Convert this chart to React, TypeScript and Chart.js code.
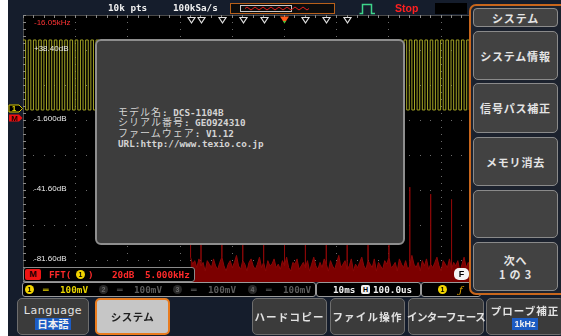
import React, { useEffect, useRef } from "react";
import { Chart, registerables } from "chart.js";

Chart.register(...registerables);

const W = 561;
const H = 336;

// ---- axis / grid data ----
const timeDivMs = [0, 10, 20, 30, 40, 50, 60, 70, 80, 90, 100];
const timeRangeMs = [0, 100];
const dbGrid = [58.4, 38.4, 18.4, -1.6, -21.6, -41.6, -61.6, -81.6];
const dbLabelValues = [38.4, -1.6, -41.6, -81.6];
const dbRange = [-94.2, 58.4];
const ch1RangeMv = [-491.4, 271.4];
const fftRangeKHz = [-16.05, 33.95];
const triggerTimeMs = 50;

// ---- CH1: 1 kHz probe-compensation square wave, one sample every 0.5 ms (mV) ----
const ch1SampleMs = 0.5;
const ch1Mv = [
  200, 0, 200, 0, 200, 0, 200, 0, 200, 0, 200, 0, 200, 0, 200, 0, 200, 0, 200, 0,
  200, 0, 200, 0, 200, 0, 200, 0, 200, 0, 200, 0, 200, 0, 200, 0, 200, 0, 200, 0,
  200, 0, 200, 0, 200, 0, 200, 0, 200, 0, 200, 0, 200, 0, 200, 0, 200, 0, 200, 0,
  200, 0, 200, 0, 200, 0, 200, 0, 200, 0, 200, 0, 200, 0, 200, 0, 200, 0, 200, 0,
  200, 0, 200, 0, 200, 0, 200, 0, 200, 0, 200, 0, 200, 0, 200, 0, 200, 0, 200, 0,
  200, 0, 200, 0, 200, 0, 200, 0, 200, 0, 200, 0, 200, 0, 200, 0, 200, 0, 200, 0,
  200, 0, 200, 0, 200, 0, 200, 0, 200, 0, 200, 0, 200, 0, 200, 0, 200, 0, 200, 0,
  200, 0, 200, 0, 200, 0, 200, 0, 200, 0, 200, 0, 200, 0, 200, 0, 200, 0, 200, 0,
  200, 0, 200, 0, 200, 0, 200, 0, 200, 0, 200, 0, 200, 0, 200, 0, 200, 0, 200, 0,
  200, 0, 200, 0, 200, 0, 200, 0, 200, 0, 200, 0, 200, 0, 200, 0, 200, 0, 200, 0,
  200,
];

// ---- FFT (math) : noise floor every 0.2 kHz from 0 Hz (dB) ----
const fftNoiseStepKHz = 0.2;
const fftNoiseDb = [
  -80, -84, -82, -86, -81, -85, -83, -88, -82, -84,
  -86, -81, -85, -87, -83, -80, -85, -88, -84, -82,
  -86, -83, -79, -85, -87, -82, -84, -88, -83, -81,
  -85, -87, -84, -80, -86, -83, -88, -82, -85, -84,
  -81, -86, -84, -87, -82, -85, -80, -86, -88, -83,
  -84, -81, -87, -85, -83, -86, -82, -88, -84, -80,
  -85, -87, -83, -86, -81, -84, -88, -82, -85, -87,
  -83, -79, -86, -84, -82, -87, -85, -81, -88, -84,
  -86, -83, -80, -85, -87, -82, -84, -86, -81, -88,
  -83, -85, -87, -82, -84, -80, -86, -85, -83, -88,
  -81, -84, -86, -82, -87, -85, -79, -84, -86, -83,
  -88, -82, -85, -81, -87, -84, -86, -83, -80, -85,
  -88, -82, -84, -86, -81, -87, -83, -85, -82, -88,
  -84, -80, -86, -83, -85, -87, -82, -84, -81, -86,
  -88, -83, -85, -80, -87, -84, -82, -86, -83, -85,
  -81, -88, -84, -86, -82, -85, -87, -83, -80, -84,
  -86, -82, -85, -88, -83, -81, -86, -84, -87, -82,
  -85,
];
// odd harmonics of the 1 kHz square wave (+ DC)
const fftHarmonicKHz = [0, 1, 3, 5, 7, 9, 11, 13, 15, 17, 19, 21, 23, 25, 27, 29, 31, 33];
const fftHarmonicDb = [6, 10, 0, -5, -9, -12, -15, -18, -21, -26, -31, -40, -44, -47, -50, -53, -55, -57];
// peak markers along the top edge (kHz)
const peakMarkerKHz = [0, 1, 3, 5, 7, 11, 13, 15];

const MONO = '"DejaVu Sans Mono", monospace';
const JP = '"Noto Sans CJK JP", sans-serif';
const SANS = '"Liberation Sans", Arial, sans-serif';

const scopePlugin = {
  id: "scopePlugin",
  beforeDatasetsDraw(chart: any) {
    const { ctx, chartArea: a, scales } = chart;
    const x = scales.x;
    const y = scales.y;
    ctx.save();
    ctx.fillStyle = "#000";
    ctx.fillRect(a.left, a.top, a.right - a.left, a.bottom - a.top);
    ctx.fillStyle = "#6c6c6c";
    const xMinor = (timeDivMs[1] - timeDivMs[0]) / 5;
    const yMinor = (dbGrid[0] - dbGrid[1]) / 5;
    timeDivMs.forEach((t) => {
      if (t === timeRangeMs[0]) return;
      const px = Math.round(x.getPixelForValue(t));
      for (let k = 0; dbRange[1] - k * yMinor >= dbRange[0]; k++) {
        ctx.fillRect(px, Math.round(y.getPixelForValue(dbRange[1] - k * yMinor)), 1, 1);
      }
    });
    dbGrid.forEach((v) => {
      if (v === dbRange[1]) return;
      const py = Math.round(y.getPixelForValue(v));
      for (let k = 0; k * xMinor <= timeRangeMs[1]; k++) {
        ctx.fillRect(Math.round(x.getPixelForValue(k * xMinor)), py, 1, 1);
      }
    });
    // border + ticks
    ctx.fillStyle = "#4a4a4a";
    ctx.fillRect(a.left, a.top, 1, a.bottom - a.top);
    ctx.fillRect(a.left, a.top, a.right - a.left, 1);
    ctx.fillStyle = "#8a8a8a";
    for (let k = 0; dbRange[1] - k * yMinor >= dbRange[0]; k++) {
      ctx.fillRect(a.left, Math.round(y.getPixelForValue(dbRange[1] - k * yMinor)), 3, 1);
    }
    for (let k = 0; k * xMinor <= timeRangeMs[1]; k++) {
      ctx.fillRect(Math.round(x.getPixelForValue(k * xMinor)), a.top, 1, 3);
    }
    ctx.restore();
  },
  afterDatasetsDraw(chart: any) {
    const { ctx, chartArea: a, scales } = chart;
    const y = scales.y;
    const x = scales.x;
    const x2 = scales.x2;
    ctx.save();
    ctx.font = '8px "Liberation Sans"';
    ctx.fillStyle = "#e8e8e8";
    ctx.textBaseline = "middle";
    dbLabelValues.forEach((v) => {
      const txt = `${v > 0 ? "+" : ""}${v.toPrecision(4)}dB`;
      ctx.fillText(txt, a.left + 11, y.getPixelForValue(v) - 1);
    });
    // peak markers
    ctx.strokeStyle = "#e0e0e0";
    ctx.lineWidth = 1.2;
    peakMarkerKHz.forEach((f) => {
      const px = Math.round(x2.getPixelForValue(f)) + 0.5;
      ctx.beginPath();
      ctx.moveTo(px - 3.5, a.top + 2.5);
      ctx.lineTo(px + 3.5, a.top + 2.5);
      ctx.lineTo(px, a.top + 8);
      ctx.closePath();
      ctx.stroke();
    });
    // trigger position marker
    const tx = Math.round(x.getPixelForValue(triggerTimeMs)) + 0.5;
    ctx.fillStyle = "#ff5a1a";
    ctx.beginPath();
    ctx.moveTo(tx - 4.5, a.top + 1.5);
    ctx.lineTo(tx + 4.5, a.top + 1.5);
    ctx.lineTo(tx, a.top + 8.5);
    ctx.closePath();
    ctx.fill();
    ctx.fillStyle = "#30d040";
    ctx.beginPath();
    ctx.moveTo(tx - 1.5, a.top + 6);
    ctx.lineTo(tx + 1.5, a.top + 6);
    ctx.lineTo(tx, a.top + 8.5);
    ctx.closePath();
    ctx.fill();
    ctx.restore();
  },
};

function buildFftPoints() {
  const pts: { x: number; y: number }[] = [];
  fftNoiseDb.forEach((v, i) => pts.push({ x: i * fftNoiseStepKHz, y: v }));
  fftHarmonicKHz.forEach((f, i) => {
    const base = fftNoiseDb[Math.min(fftNoiseDb.length - 1, Math.round(f / fftNoiseStepKHz))];
    pts.push({ x: f, y: base }, { x: f, y: fftHarmonicDb[i] }, { x: f, y: base });
  });
  return pts.map((p, i) => ({ p, i })).sort((a, b) => a.p.x - b.p.x || a.i - b.i).map((o) => o.p);
}

function Txt(props: { x: number; y: number; children: any; style?: any }) {
  return (
    <div
      style={{
        position: "absolute",
        left: props.x,
        top: props.y,
        transform: "translateY(-50%)",
        lineHeight: 1,
        whiteSpace: "nowrap",
        ...props.style,
      }}
    >
      {props.children}
    </div>
  );
}

function Circle(props: { x: number; y: number; n: string; bg: string; color: string; border?: string }) {
  return (
    <div
      style={{
        position: "absolute",
        left: props.x,
        top: props.y - 4.5,
        width: 9,
        height: 9,
        borderRadius: "50%",
        background: props.bg,
        border: props.border || "none",
        boxSizing: "border-box",
        color: props.color,
        fontFamily: SANS,
        fontWeight: 700,
        fontSize: 7,
        lineHeight: "9px",
        textAlign: "center",
      }}
    >
      {props.n}
    </div>
  );
}

const menuButtons = [
  { top: 31, h: 49, label: ["システム情報"] },
  { top: 83, h: 50, label: ["信号パス補正"] },
  { top: 137, h: 49, label: ["メモリ消去"] },
  { top: 190, h: 48, label: [] as string[] },
  { top: 242, h: 49, label: ["次へ", "1 の 3"] },
];

const softKeys = [
  { x: 17, w: 72, main: "Language", sub: "日本語", latin: true },
  { x: 95, w: 75, main: "システム", active: true },
  { x: 252, w: 75, main: "ハードコピー", ls: 1.2 },
  { x: 330, w: 75, main: "ファイル操作", ls: 1.2 },
  { x: 408, w: 76, main: "インターフェース", ls: -0.6 },
  { x: 486, w: 78, main: "プローブ補正", sub: "1kHz", ls: 1 },
];

const channels = [
  { n: "1", x: 25, on: true },
  { n: "2", x: 99, on: false },
  { n: "3", x: 173, on: false },
  { n: "4", x: 248, on: false },
];

export default function App() {
  const ref = useRef<HTMLCanvasElement>(null);
  useEffect(() => {
    const ch1Points = ch1Mv.map((v, i) => ({ x: i * ch1SampleMs, y: v }));
    const chart = new Chart(ref.current as HTMLCanvasElement, {
      type: "line",
      data: {
        datasets: [
          {
            data: ch1Points,
            xAxisID: "x",
            yAxisID: "y2",
            borderColor: "#a4a424",
            borderWidth: 1,
            stepped: true,
            pointRadius: 0,
            fill: false,
          } as any,
          {
            data: buildFftPoints(),
            xAxisID: "x2",
            yAxisID: "y",
            borderColor: "#8a0808",
            backgroundColor: "#7c0000",
            borderWidth: 1,
            pointRadius: 0,
            fill: "start",
          } as any,
        ],
      },
      options: {
        animation: false,
        responsive: false,
        devicePixelRatio: 1,
        events: [],
        layout: { padding: { left: 23, top: 15, right: 16, bottom: 54 } },
        plugins: { legend: { display: false }, tooltip: { enabled: false } },
        elements: { line: { tension: 0 }, point: { radius: 0 } },
        scales: {
          x: { type: "linear", display: false, min: timeRangeMs[0], max: timeRangeMs[1] },
          x2: { type: "linear", display: false, min: fftRangeKHz[0], max: fftRangeKHz[1] },
          y: { type: "linear", display: false, min: dbRange[0], max: dbRange[1] },
          y2: { type: "linear", display: false, min: ch1RangeMv[0], max: ch1RangeMv[1] },
        },
      } as any,
      plugins: [scopePlugin],
    });
    return () => chart.destroy();
  }, []);

  const navy = "#151d2c";
  const monoB = { fontFamily: MONO, fontWeight: 700, fontSize: 9.3 };

  return (
    <div style={{ position: "fixed", left: 0, top: 0, width: W, height: H, background: "#fff", overflow: "hidden" }}>
      <div style={{ position: "absolute", left: 8, top: 0, width: W - 8, height: H, background: navy }} />
      <canvas ref={ref} width={W} height={H} style={{ position: "absolute", left: 0, top: 0, width: W, height: H }} />

      {/* top bar */}
      <Txt x={108} y={8} style={{ ...monoB, color: "#f0f0f0" }}>10k pts</Txt>
      <Txt x={173} y={8} style={{ ...monoB, color: "#f0f0f0" }}>100kSa/s</Txt>
      <div style={{ position: "absolute", left: 230, top: 3, width: 105, height: 11, border: "1px solid #b8601a", background: "#0c0c0c", boxSizing: "border-box" }} />
      <div style={{ position: "absolute", left: 240, top: 5, width: 52, height: 7, border: "1px solid #c8c8c8", boxSizing: "border-box" }} />
      <svg style={{ position: "absolute", left: 245, top: 5 }} width={66} height={7}>
        <path d="M0 3.5 q2 -3 4 0 t4 0 t4 0 t4 0 t4 0 t4 0 t4 0 t4 0 t4 0 t4 0 t4 0 t4 0 t4 0 t4 0 t4 0 t4 0" stroke="#e02020" strokeWidth="1" fill="none" />
      </svg>
      <svg style={{ position: "absolute", left: 359, top: 3 }} width={17} height={12}>
        <path d="M0.5 10.5 H3.5 V1.5 H12.5 V10.5 H16" stroke="#3ed48a" strokeWidth="1.5" fill="none" />
      </svg>
      <Txt x={395} y={8} style={{ fontFamily: SANS, fontWeight: 700, fontSize: 10.5, color: "#ff2020" }}>Stop</Txt>
      <div style={{ position: "absolute", left: 435, top: 3, width: 32, height: 11, background: "#000" }} />

      {/* grid annotations */}
      <Txt x={34} y={23} style={{ fontFamily: SANS, fontSize: 8, color: "#ff3434" }}>-16.05kHz</Txt>

      {/* left markers */}
      <svg style={{ position: "absolute", left: 8, top: 104 }} width={16} height={20}>
        <path d="M1 1 H11 L14.5 4.5 L11 8 H1 Z" fill="#000" stroke="#d8c800" strokeWidth="1" />
        <text x="6" y="7.2" fill="#e8d800" fontFamily="Liberation Sans" fontWeight="700" fontSize="8" textAnchor="middle">1</text>
        <path d="M1 10.5 H11 L14.5 14 L11 17.5 H1 Z" fill="#ee1010" />
        <text x="6.5" y="16.8" fill="#200000" fontFamily="Liberation Sans" fontWeight="700" fontSize="8" textAnchor="middle">M</text>
      </svg>

      {/* info dialog */}
      <div style={{ position: "absolute", left: 95, top: 39, width: 310, height: 206, background: "#3d3d3d", border: "2px solid #8e8e8e", borderRadius: 6, boxSizing: "border-box" }} />
      {[
        ["モデル名", ": DCS-1104B"],
        ["シリアル番号", ": GEO924310"],
        ["ファームウェア", ": V1.12"],
        ["", "URL:http://www.texio.co.jp"],
      ].map((ln, i) => (
        <Txt key={i} x={118} y={110.5 + i * 10.6} style={{ color: "#d4d4d4" }}>
          <span style={{ fontFamily: JP, fontSize: 10, letterSpacing: 1 }}>{ln[0]}</span>
          <span style={{ fontFamily: MONO, fontWeight: 700, fontSize: 9.3 }}>{ln[1]}</span>
        </Txt>
      ))}

      {/* F badge */}
      <div style={{ position: "absolute", left: 454, top: 268, width: 15, height: 12, background: "#f4f4f4", borderRadius: 5, fontFamily: SANS, fontWeight: 700, fontSize: 9, lineHeight: "12px", textAlign: "center", color: "#000" }}>F</div>

      {/* math status box */}
      <div style={{ position: "absolute", left: 23, top: 267, width: 172, height: 15, background: "#000", border: "1px solid #8a8a8a", borderRadius: 3, boxSizing: "border-box" }} />
      <div style={{ position: "absolute", left: 25, top: 269, width: 16, height: 11, background: "#ee1414", borderRadius: 2, color: "#1a0000", fontFamily: SANS, fontWeight: 700, fontSize: 9, lineHeight: "11px", textAlign: "center" }}>M</div>
      <Txt x={49} y={274.5} style={{ ...monoB, color: "#ff2a2a" }}>FFT(</Txt>
      <Circle x={76} y={274.5} n="1" bg="#f2d400" color="#000" />
      <Txt x={88} y={274.5} style={{ ...monoB, color: "#ff2a2a" }}>)</Txt>
      <Txt x={112} y={274.5} style={{ ...monoB, color: "#ff2a2a" }}>20dB</Txt>
      <Txt x={145} y={274.5} style={{ ...monoB, color: "#ff2a2a" }}>5.000kHz</Txt>

      {/* channel / timebase / trigger bar */}
      <div style={{ position: "absolute", left: 22, top: 282, width: 294, height: 15, background: "#000", border: "1px solid #9a9a9a", borderRadius: 3, boxSizing: "border-box" }} />
      <div style={{ position: "absolute", left: 316, top: 282, width: 105, height: 15, background: "#000", border: "1px solid #9a9a9a", borderRadius: 3, boxSizing: "border-box" }} />
      <div style={{ position: "absolute", left: 421, top: 282, width: 60, height: 15, background: "#000", border: "1px solid #9a9a9a", borderRadius: 3, boxSizing: "border-box" }} />
      {channels.map((c) => {
        const col = c.on ? "#e8d400" : "#5c5c5c";
        return (
          <React.Fragment key={c.n}>
            <Circle x={c.x} y={289.5} n={c.n} bg={c.on ? "#f2d400" : "#2a2a2a"} color={c.on ? "#000" : "#6a6a6a"} />
            <Txt x={c.x + 18} y={289.5} style={{ ...monoB, color: col }}>═</Txt>
            <Txt x={c.x + 35} y={289.5} style={{ ...monoB, color: col }}>100mV</Txt>
          </React.Fragment>
        );
      })}
      <Txt x={333} y={289.5} style={{ ...monoB, color: "#f0f0f0" }}>10ms</Txt>
      <div style={{ position: "absolute", left: 361, top: 285, width: 9, height: 9, background: "#f0f0f0", borderRadius: 2, color: "#000", fontFamily: SANS, fontWeight: 700, fontSize: 7, lineHeight: "9px", textAlign: "center" }}>H</div>
      <Txt x={373} y={289.5} style={{ ...monoB, color: "#f0f0f0" }}>100.0us</Txt>
      <Circle x={438} y={289.5} n="1" bg="#f2d400" color="#000" />
      <Txt x={459} y={289.5} style={{ fontFamily: "DejaVu Serif", fontStyle: "italic", fontSize: 10, color: "#e8a800" }}>ƒ</Txt>

      {/* right menu */}
      <div style={{ position: "absolute", left: 469, top: 4, width: 100, height: 291, border: "2px solid #c8661c", borderRadius: 7, background: "#1c222e", boxSizing: "border-box" }} />
      <div style={{ position: "absolute", left: 473, top: 8, width: 85, height: 19, background: "#434343", border: "1px solid #8c8c8c", borderRadius: 4, boxSizing: "border-box", display: "flex", alignItems: "center", justifyContent: "center", fontFamily: JP, fontWeight: 700, fontSize: 11, letterSpacing: 0.8, color: "#e4e4e4" }}>システム</div>
      {menuButtons.map((b, i) => (
        <div key={i} style={{ position: "absolute", left: 473, top: b.top, width: 85, height: b.h, background: "#424242", border: "1px solid #8a8a8a", borderRadius: 5, boxSizing: "border-box", display: "flex", flexDirection: "column", alignItems: "center", justifyContent: "center", fontFamily: JP, fontWeight: 700, fontSize: 11, letterSpacing: 0.8, color: "#e4e4e4", lineHeight: "14px" }}>
          {b.label.map((t, j) => (
            <div key={j}>{t}</div>
          ))}
        </div>
      ))}

      {/* bottom soft keys */}
      {softKeys.map((k, i) => (
        <div key={i} style={{ position: "absolute", left: k.x, top: 298, width: k.w, height: 37, background: k.active ? "#c6c6c6" : "#3b3b3b", border: k.active ? "2px solid #e97b1e" : "1px solid #6e6e6e", borderRadius: 5, boxSizing: "border-box", display: "flex", flexDirection: "column", alignItems: "center", justifyContent: "center" }}>
          <div style={{ fontFamily: k.latin ? '"DejaVu Sans", sans-serif' : JP, fontWeight: k.latin ? 400 : 700, fontSize: k.latin ? 11 : 10.5, letterSpacing: k.ls || 0.5, color: k.active ? "#1e1e1e" : "#e2e2e2", lineHeight: "13px", whiteSpace: "nowrap" }}>{k.main}</div>
          {k.sub ? (
            <div style={{ marginTop: 1, background: "#1c5cc4", color: "#f0f0f0", fontFamily: k.latin ? JP : SANS, fontSize: k.latin ? 10.5 : 9, fontWeight: 700, lineHeight: "12px", padding: "0 2px" }}>{k.sub}</div>
          ) : null}
        </div>
      ))}
    </div>
  );
}
